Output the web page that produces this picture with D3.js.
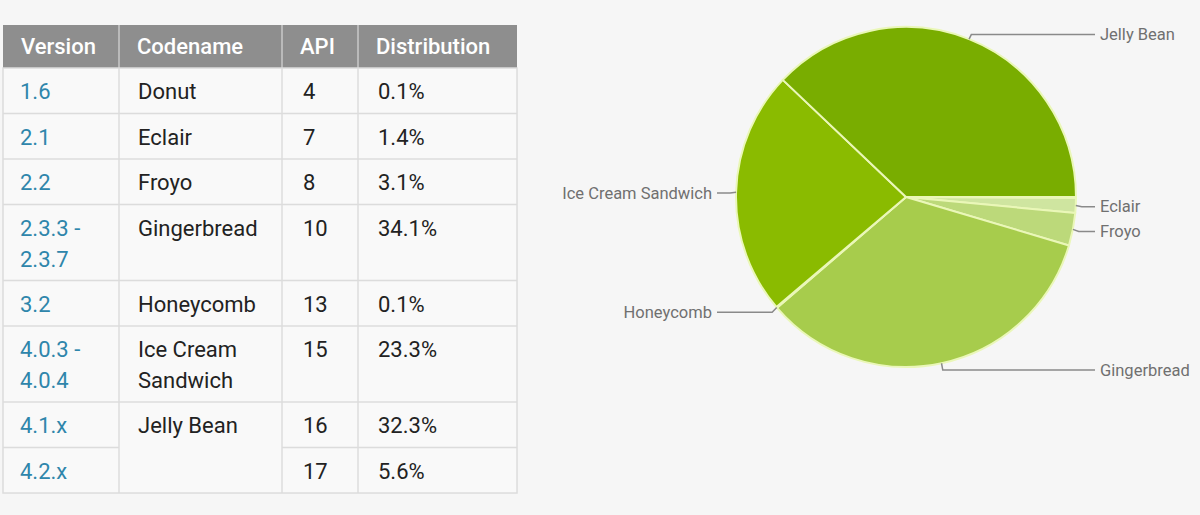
<!DOCTYPE html>
<html>
<head>
<meta charset="utf-8">
<script src="https://cdn.jsdelivr.net/npm/d3@7"></script>
<style>
  html, body { margin: 0; padding: 0; background: #f6f6f6; }
  svg { display: block; font-family: Roboto, "Open Sans", sans-serif; }
</style>
</head>
<body>
<svg id="chart" width="1200" height="515"></svg>
<script>
// table data
const headers = ["Version", "Codename", "API", "Distribution"];
const versions = [["1.6"], ["2.1"], ["2.2"], ["2.3.3 -", "2.3.7"], ["3.2"], ["4.0.3 -", "4.0.4"], ["4.1.x"], ["4.2.x"]];
const codenames = [["Donut"], ["Eclair"], ["Froyo"], ["Gingerbread"], ["Honeycomb"], ["Ice Cream", "Sandwich"], ["Jelly Bean"], null]; // null = merged with row above
const apis = [4, 7, 8, 10, 13, 15, 16, 17];
const distribution = [0.1, 1.4, 3.1, 34.1, 0.1, 23.3, 32.3, 5.6];

// pie colours per codename
const pieNames = ["Donut", "Eclair", "Froyo", "Gingerbread", "Honeycomb", "Ice Cream Sandwich", "Jelly Bean"];
const pieColors = ["#d6e9ac", "#cfe5a0", "#bcd97a", "#a7cc4c", "#99c42a", "#8abb00", "#79ad00"];
const pieLabelled = ["Eclair", "Froyo", "Gingerbread", "Honeycomb", "Ice Cream Sandwich", "Jelly Bean"];

const svg = d3.select("#chart");

// ---- Table ----
const colX = [3, 119, 282, 358, 517];
const headerTop = 25, headerH = 43;
const lineH = 31, singleH = 45.5;
const fs = 22;

let rows = [];
let y = headerTop + headerH;
versions.forEach((v, i) => {
  const h = v.length > 1 ? singleH + lineH - 0.5 : singleH;
  rows.push({ i, y, h });
  y += h;
});

const table = svg.append("g");

// header
table.append("rect")
  .attr("x", colX[0]).attr("y", headerTop)
  .attr("width", colX[4] - colX[0]).attr("height", headerH)
  .attr("fill", "#8e8e8e");
headers.forEach((h, c) => {
  if (c > 0) {
    table.append("line")
      .attr("x1", colX[c]).attr("x2", colX[c])
      .attr("y1", headerTop).attr("y2", headerTop + headerH)
      .attr("stroke", "#c8c8c8").attr("stroke-width", 1.5);
  }
  table.append("text")
    .attr("x", colX[c] + 18).attr("y", headerTop + 29)
    .attr("fill", "#fff").attr("font-size", fs).attr("font-weight", 500)
    .text(h);
});

// body background
const bodyTop = headerTop + headerH;
table.append("rect")
  .attr("x", colX[0]).attr("y", bodyTop)
  .attr("width", colX[4] - colX[0]).attr("height", y - bodyTop)
  .attr("fill", "#f9f9f9").attr("stroke", "#dcdcdc").attr("stroke-width", 1.5);

// horizontal borders (skip codename column where merged)
rows.forEach((r, k) => {
  if (k === 0) return;
  const merged = codenames[r.i] === null;
  const segs = merged ? [[colX[0], colX[1]], [colX[2], colX[4]]] : [[colX[0], colX[4]]];
  segs.forEach(s => {
    table.append("line")
      .attr("x1", s[0]).attr("x2", s[1])
      .attr("y1", r.y).attr("y2", r.y)
      .attr("stroke", "#dcdcdc").attr("stroke-width", 1.5);
  });
});

// vertical borders
[1, 2, 3].forEach(c => {
  table.append("line")
    .attr("x1", colX[c]).attr("x2", colX[c])
    .attr("y1", bodyTop).attr("y2", y)
    .attr("stroke", "#dcdcdc").attr("stroke-width", 1.5);
});

function cellText(lines, x, y0, color) {
  const t = table.append("text")
    .attr("x", x).attr("y", y0)
    .attr("fill", color).attr("font-size", fs);
  lines.forEach((l, j) => {
    t.append("tspan").attr("x", x).attr("dy", j === 0 ? 0 : lineH).text(l);
  });
}

rows.forEach(r => {
  const by = r.y + 31;
  cellText(versions[r.i], colX[0] + 17, by, "#2f86ab");
  if (codenames[r.i]) cellText(codenames[r.i], colX[1] + 19, by, "#222");
  cellText([String(apis[r.i])], colX[2] + 21, by, "#222");
  cellText([distribution[r.i] + "%"], colX[3] + 20, by, "#222");
});

// ---- Pie ----
// group distribution by codename (Jelly Bean spans two API levels)
let current = null;
const sums = new Map(pieNames.map(n => [n, 0]));
codenames.forEach((c, i) => {
  if (c) current = c.join(" ");
  sums.set(current, sums.get(current) + distribution[i]);
});
const pieData = pieNames.map(n => ({ name: n, value: sums.get(n) }));

const color = d3.scaleOrdinal().domain(pieNames).range(pieColors);
const cx = 906, cy = 197, r = 170;

// d3 angles start at 12 o'clock; reference starts at 3 o'clock
const pie = d3.pie().sort(null).value(d => d.value)
  .startAngle(Math.PI / 2).endAngle(Math.PI / 2 + 2 * Math.PI);
const arc = d3.arc().innerRadius(0).outerRadius(r);
const arcs = pie(pieData);

const pg = svg.append("g").attr("transform", `translate(${cx},${cy})`);
pg.selectAll("path.slice")
  .data(arcs)
  .enter().append("path")
  .attr("class", "slice")
  .attr("d", arc)
  .attr("fill", d => color(d.data.name))
  .attr("stroke", "#eaf7b8")
  .attr("stroke-width", 2)
  .attr("stroke-linejoin", "round");

// labels: short radial tick, then horizontal leader
const labelG = svg.append("g");
arcs.filter(d => pieLabelled.includes(d.data.name)).forEach(d => {
  const a = (d.startAngle + d.endAngle) / 2;
  const ax = cx + r * Math.sin(a);
  const ay = cy - r * Math.cos(a);
  const right = Math.sin(a) > 0;
  const ex = cx + (r + 6) * Math.sin(a);
  const ly = cy - (r + 6) * Math.cos(a) + 1;
  const lx = right ? 1095 : 717;
  labelG.append("path")
    .attr("d", `M${ax},${ay}L${ex},${ly}L${lx},${ly}`)
    .attr("fill", "none")
    .attr("stroke", "#8a8a8a")
    .attr("stroke-width", 1.5);
  labelG.append("text")
    .attr("x", right ? lx + 5 : lx - 5)
    .attr("y", ly + 5.5)
    .attr("text-anchor", right ? "start" : "end")
    .attr("fill", "#707070")
    .attr("font-size", 16.5)
    .text(d.data.name);
});
</script>
</body>
</html>
